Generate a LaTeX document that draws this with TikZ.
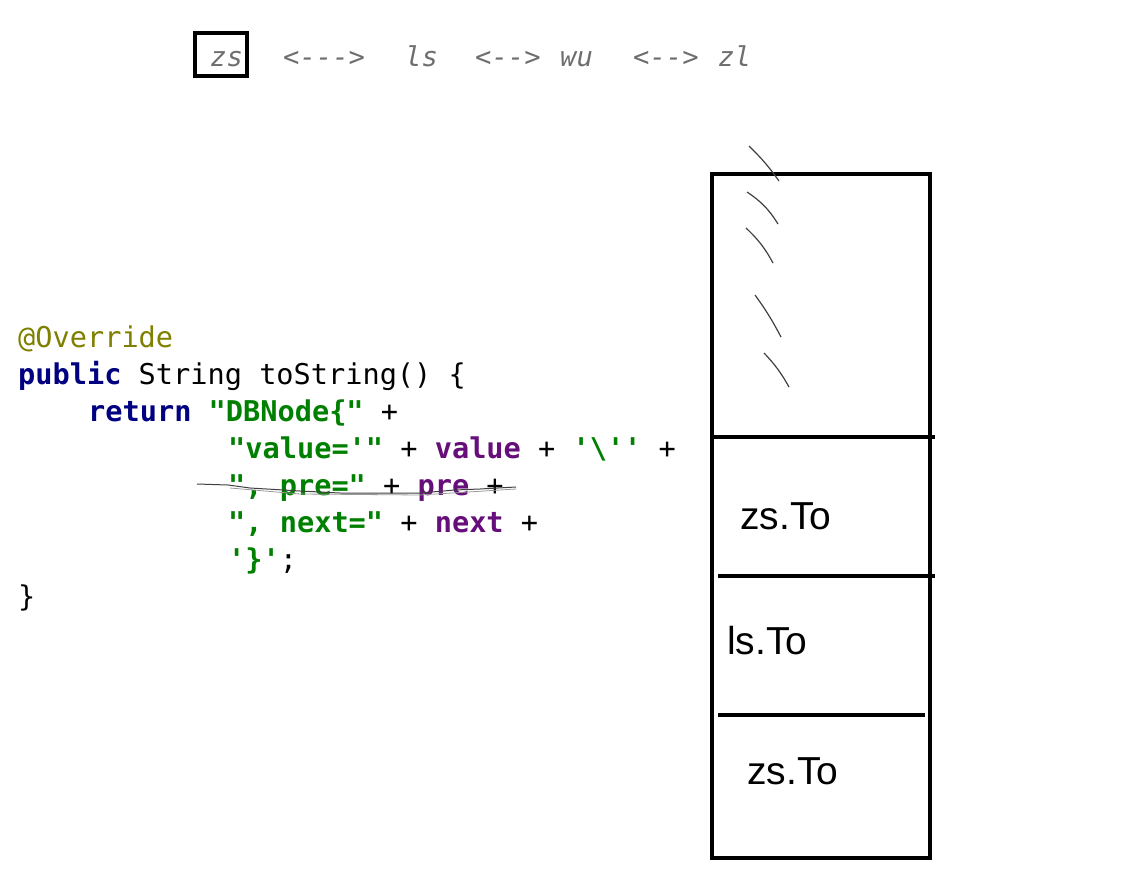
\documentclass[tikz,border=0pt]{standalone}
\usepackage{fontspec}
\setmainfont{Liberation Sans}
\setmonofont{DejaVu Sans Mono}
\definecolor{annot}{RGB}{128,128,0}
\definecolor{kwblue}{RGB}{0,0,128}
\definecolor{strgreen}{RGB}{0,128,0}
\definecolor{fldpurple}{RGB}{102,14,122}
\definecolor{chaingray}{RGB}{110,110,110}
\newcommand{\kw}[1]{\textbf{\textcolor{kwblue}{#1}}}
\newcommand{\str}[1]{\textbf{\textcolor{strgreen}{#1}}}
\newcommand{\fld}[1]{\textbf{\textcolor{fldpurple}{#1}}}

\begin{document}
\begin{tikzpicture}[x=1pt, y=-1pt,
		code/.style={anchor=base west, inner sep=0pt, font=\ttfamily\fontsize{28.6}{30}\selectfont},
		chain/.style={anchor=base west, inner sep=0pt, text=chaingray, font=\ttfamily\itshape\fontsize{27.2}{29}\selectfont},
		cell/.style={anchor=base west, inner sep=0pt, font=\fontsize{39}{42}\selectfont},
		hatch/.style={draw=black!75, line width=1.2pt}]
				\useasboundingbox (0,0) rectangle (1140,893);
				% list on top
				\node[chain] (zs)at(210, 67) {zs};
				\node[chain] (l1)at(283, 67) {<--->};
				\node[chain] (ls)at(405, 67) {ls};
				\node[chain] (l2)at(475, 67) {<-->};
				\node[chain] (wu)at(560, 67) {wu};
				\node[chain] (l3)at(633, 67) {<-->};
				\node[chain] (zl)at(718, 67) {zl};
				\draw[line width=3.5pt] (195, 33) rectangle (247, 76);
				% code
				\node[code, text=annot] (c1)at(18, 347) {@Override};
				\node[code] (c2)at(18, 384) {\kw{public} String toString() \{};
				\node[code] (c3)at(88, 421) {\kw{return} \str{"DBNode\{"} +};
				\node[code] (c4)at(228, 458) {\str{"value='"} + \fld{value} + \str{'\textbackslash''} +};
				\node[code] (c5)at(228, 495) {\str{", pre="} + \fld{pre} +};
				\node[code] (c6)at(228, 532) {\str{", next="} + \fld{next} +};
				\node[code] (c7)at(228, 569) {\str{'\}'};};
				\node[code] (c8)at(18, 606) {\}};
				\draw[black!75, line width=1pt] (197, 484) -- (228, 485) -- (250, 488) -- (300, 491) -- (340, 493) -- (420, 493) -- (455, 490) -- (480, 489) -- (516, 487);
				\draw[black!40, line width=0.8pt] (230, 488) -- (300, 494) -- (420, 495) -- (516, 489);
				% stack
				\draw[line width=4pt] (712, 174) rectangle (930, 858);
				\draw[line width=3.5pt] (712, 437) -- (935, 437);
				\draw[line width=3.5pt] (718, 576) -- (935, 576);
				\draw[line width=3.5pt] (718, 715) -- (925, 715);
				\node[cell] (s1)at(740, 529) {zs.To};
				\node[cell] (s2)at(727, 654) {ls.To};
				\node[cell] (s3)at(747, 784) {zs.To};
				\draw[hatch] (749, 146) to[bend left=5] (779, 181);
				\draw[hatch] (747, 192) to[bend left=12] (778, 224);
				\draw[hatch] (746, 228) to[bend left=9] (773, 263);
				\draw[hatch] (755, 295) to[bend left=4] (781, 337);
				\draw[hatch] (764, 353) to[bend left=7] (789, 387);
			\end{tikzpicture}
\end{document}
